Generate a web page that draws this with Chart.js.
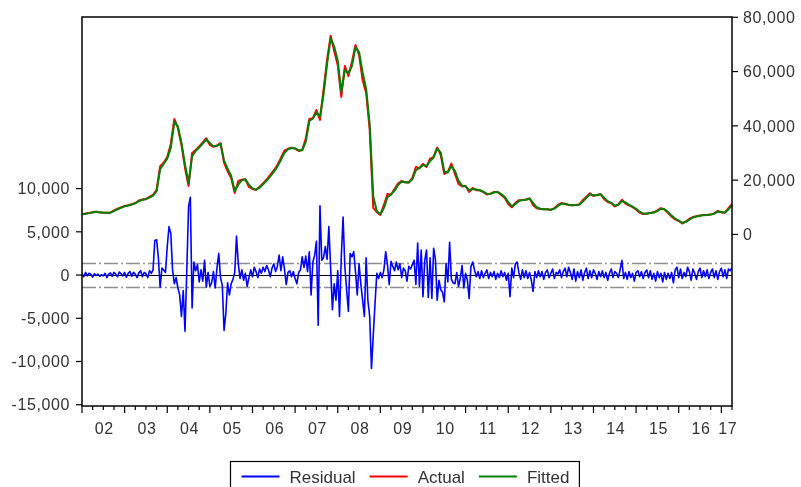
<!DOCTYPE html>
<html>
<head>
<meta charset="utf-8">
<script src="https://cdn.jsdelivr.net/npm/chart.js@4.4.1/dist/chart.umd.min.js"></script>
<style>
  html, body { margin: 0; padding: 0; background: #ffffff; }
  #wrap { width: 801px; height: 487px; }
</style>
</head>
<body>
<div id="wrap"><canvas id="chart" width="801" height="487"></canvas></div>
<script>
// Sample: January 2002 to March 2017
const periodStart = 2002;
const periodEnd = 2017.25;

// Actual and fitted levels, one value per month (right axis)
const actual = [
  7440, 7700, 7920, 8210, 8400, 8100, 8030, 8030, 8030, 8840,
  9470, 9980, 10500, 10750, 11120, 11600, 12520, 12850, 13070, 13810,
  14550, 16390, 25120, 26440, 28540, 33330, 42540, 39220, 32960, 24490,
  17860, 30020, 31120, 32410, 33880, 35430, 32960, 32230, 32780, 33700,
  26330, 23280, 20810, 15280, 19700, 20180, 20330, 17490, 16760, 16390,
  17570, 18860, 20220, 21910, 23570, 25600, 28170, 30860, 31560, 31970,
  31600, 30750, 31120, 35360, 42540, 42800, 45850, 42170, 53220, 64270,
  73180, 67580, 62430, 50640, 62060, 58380, 63530, 69790, 66110, 56900,
  52110, 38490, 9760, 8180, 7180, 10860, 14920, 14660, 16760, 18860,
  19700, 19150, 19150, 20810, 24860, 24380, 26040, 24860, 27920, 28540,
  32040, 29280, 22280, 23020, 26080, 22280, 18600, 17680, 17860, 15650,
  17130, 16280, 16280, 15580, 14730, 15030, 15650, 15650, 14550, 13520,
  11230, 10020, 11600, 12630, 12710, 12850, 13300, 10860, 9650, 9390,
  9280, 9240, 9020, 9720, 10860, 11560, 11230, 10860, 10750, 10830,
  11050, 12600, 13850, 15170, 14180, 14580, 14880, 13000, 11970, 11530,
  10280, 11120, 12780, 11380, 10680, 10050, 9210, 7990, 7510, 7730,
  7920, 8140, 8840, 9720, 9130, 7840, 6560, 5560, 4940, 4010,
  4790, 5780, 6410, 6700, 6960, 7180, 7180, 7370, 7770, 8660,
  8100, 8030, 9720, 11230
];

const fitted = [
  7440, 7620, 7850, 8120, 8340, 8190, 8050, 8030, 8030, 8600,
  9280, 9830, 10340, 10680, 11010, 11460, 12240, 12750, 13000, 13590,
  14330, 15840, 24000, 26040, 27910, 31890, 41500, 39700, 33800, 25800,
  18800, 28800, 30790, 32020, 33440, 34970, 33700, 32450, 32620, 33420,
  27200, 24200, 21550, 16000, 18370, 20040, 20290, 18340, 16980, 16500,
  17220, 18470, 19810, 21400, 23070, 24990, 27400, 30050, 31350, 31850,
  31710, 31010, 31010, 34090, 41800, 42720, 44940, 43270, 51500, 62800,
  72300, 69260, 63980, 52500, 60500, 59480, 61990, 69000, 67210, 59660,
  53550, 40500, 14000, 8650, 7480, 9760, 13700, 14740, 16130, 18230,
  19450, 19320, 19150, 20310, 23650, 24520, 25540, 25210, 27000, 28350,
  31600, 30110, 23200, 22800, 25160, 23420, 19700, 17960, 17810, 16310,
  16690, 16540, 16280, 15790, 14990, 14940, 15460, 15650, 14880, 13830,
  11920, 10380, 11130, 12320, 12690, 12810, 13170, 11590, 10010, 9470,
  9310, 9250, 9090, 9510, 10520, 11350, 11330, 10970, 10780, 10810,
  10980, 12140, 13480, 14770, 14480, 14460, 14790, 13560, 12280, 11660,
  10660, 10870, 12280, 11800, 10890, 10240, 9460, 8360, 7650, 7660,
  7860, 8070, 8630, 9460, 9310, 8230, 6940, 5860, 5130, 4290,
  4560, 5480, 6220, 6610, 6880, 7110, 7180, 7310, 7650, 8390,
  8270, 8050, 9210, 10780
];

// Residuals, two values per month (left axis)
const residual = [
  150, -200, 300, -100, 200, 100, -250, 150, -50, 100,
  -150, 50, -100, 200, -300, 100, 250, -150, 300, 100,
  -200, 350, 150, -100, 300, -250, 200, 400, -150, 300,
  100, -300, 250, 500, -200, 300, 150, -300, 500, 200,
  600, 4000, 4100, 2000, -1400, 800, 600, 300, 3300, 5600,
  4800, 600, -1000, -300, -1500, -2300, -4800, -1800, -6500, 500,
  7900, 9000, -3800, 1500, 500, 1200, -800, 600, -700, 1700,
  -1400, 300, -1300, -900, 400, -1500, 800, 2500, -300, -1200,
  -6400, -4400, -900, -2300, -1000, -500, 300, 4500, 1300, -400,
  600, -600, 200, -1300, -300, 600, -200, 900, 400, -300,
  700, 200, 900, 400, 1100, 600, -200, 800, 1300, 400,
  1000, 2300, 500, 2100, 700, -1100, 300, 500, -200, 400,
  -400, -1000, 300, 600, 2100, 900, 2200, 400, 2700, -2300,
  1500, 2300, 3900, -5800, 8000, 1700, 2000, 3300, 1800, 5600,
  800, -4000, -1000, -2900, 500, -4800, 2100, 6700, 1000, -1700,
  -4200, 2500, 2100, 2700, 400, -2300, 1300, -1000, -2900, -4800,
  2000, -3000, -4800, -10800, -7000, -3300, 200, -400, 300, -300,
  600, 2700, 1200, -1100, 1600, 1000, 500, 1500, 600, 1300,
  -300, 800, 500, -700, 1000, 700, 1200, 1700, -1100, 3700,
  -1300, 2900, -2500, 1700, 2900, -2600, 2000, -2700, 3100, 1800,
  -2900, -600, -1700, -2000, -3100, 1300, -800, 3800, -500, -900,
  -1000, 300, -1300, -400, 1100, -1500, 200, -600, -2700, 1000,
  1500, 600, -200, 400, -400, 500, -300, 200, 600, -400,
  300, -200, 400, -500, 200, -300, 500, -200, 300, -600,
  200, -2500, 800, -300, 1300, 1500, 300, -500, 600, -300,
  500, -400, 300, -600, -1900, 400, -300, 500, -200, 400,
  -500, 300, 600, -300, 200, 700, -400, 300, 100, 600,
  -300, 400, 800, -200, 900, 300, -500, 700, -700, 400,
  -300, 600, -600, 300, 800, -400, 500, -300, 600, 200,
  -500, 400, -200, 500, -300, 300, -600, 200, 700, -300,
  400, 200, -300, 600, 1700, -400, 300, -500, 400, -300,
  200, -700, 300, 500, -200, 400, -400, 300, 600, -300,
  500, -500, 200, -700, 400, -300, 200, -800, 300, -500,
  200, -400, 300, -900, 600, 900, -300, 700, -400, 300,
  -200, 900, 400, -600, 700, 200, -500, 400, 800, -300,
  500, -200, 600, -400, 300, 700, -300, 500, -500, 400,
  800, -200, 600, -400, 700, 500, 900
];

// One standard error of the regression, drawn as a band around zero
const residualBand = 1350;

// Axis tick labels
const yearLabels = ['02', '03', '04', '05', '06', '07', '08', '09', '10', '11', '12', '13', '14', '15', '16', '17'];
const residualTicks = [10000, 5000, 0, -5000, -10000, -15000];
const levelTicks = [0, 20000, 40000, 60000, 80000];

const seriesNames = ['Residual', 'Actual', 'Fitted'];
const seriesColors = ['#0000ff', '#ff0000', '#008000'];

const axisFont = '16px "Liberation Sans", Arial, sans-serif';
const legendFont = '17px "Liberation Sans", Arial, sans-serif';
const textColor = '#333333';

const fmt = v => v.toLocaleString('en-US');

function strokeLine(ctx, x1, y1, x2, y2) {
  ctx.beginPath();
  ctx.moveTo(x1, y1);
  ctx.lineTo(x2, y2);
  ctx.stroke();
}

// Frame, reference lines, axis ticks, tick labels and the boxed legend
const eviewsFrame = {
  id: 'eviewsFrame',
  beforeDatasetsDraw(chart) {
    const { ctx, chartArea: a, scales } = chart;
    const yR = scales.yRes;
    ctx.save();
    ctx.beginPath();
    ctx.rect(a.left, a.top, a.right - a.left, a.bottom - a.top);
    ctx.clip();
    ctx.strokeStyle = '#909090';
    ctx.lineWidth = 1.5;
    ctx.setLineDash([14, 3, 2, 3]);
    [residualBand, -residualBand].forEach(v => {
      const y = Math.round(yR.getPixelForValue(v)) + 0.5;
      strokeLine(ctx, a.left, y, a.right, y);
    });
    ctx.setLineDash([]);
    ctx.strokeStyle = '#000000';
    ctx.lineWidth = 1.2;
    const y0 = Math.round(yR.getPixelForValue(0)) + 0.5;
    strokeLine(ctx, a.left, y0, a.right, y0);
    ctx.restore();
  },
  afterDraw(chart) {
    const { ctx, chartArea: a, scales } = chart;
    const x = scales.x, yR = scales.yRes, yL = scales.yLev;
    ctx.save();

    // plot frame
    ctx.strokeStyle = '#000000';
    ctx.lineWidth = 1.5;
    ctx.strokeRect(a.left, a.top, a.right - a.left, a.bottom - a.top);

    ctx.lineWidth = 1.2;
    ctx.fillStyle = textColor;
    ctx.font = axisFont;
    if ('letterSpacing' in ctx) ctx.letterSpacing = '0.6px';

    // left axis: residuals
    ctx.textAlign = 'right';
    ctx.textBaseline = 'alphabetic';
    residualTicks.forEach(v => {
      const y = yR.getPixelForValue(v);
      strokeLine(ctx, a.left - 6, y, a.left, y);
      ctx.fillText(fmt(v), a.left - 12, y + 5.7);
    });

    // right axis: actual / fitted levels
    ctx.textAlign = 'left';
    levelTicks.forEach(v => {
      const y = yL.getPixelForValue(v);
      strokeLine(ctx, a.right, y, a.right + 6, y);
      ctx.fillText(fmt(v), a.right + 11, y + 5.7);
    });

    // time axis: quarterly minor ticks, yearly major ticks, labels mid-year
    for (let yr = periodStart; yr <= Math.floor(periodEnd); yr++) {
      for (let q = 0; q < 4; q++) {
        const t = yr + q / 4;
        if (t > periodEnd) break;
        const px = x.getPixelForValue(t);
        strokeLine(ctx, px, a.bottom, px, a.bottom + (q === 0 ? 7 : 4));
      }
    }
    ctx.textAlign = 'center';
    yearLabels.forEach((lab, i) => {
      const yr = periodStart + i;
      const mid = (yr + Math.min(yr + 1, periodEnd)) / 2;
      ctx.fillText(lab, x.getPixelForValue(mid) + 1, 434);
    });

    // legend
    if ('letterSpacing' in ctx) ctx.letterSpacing = '0px';
    ctx.font = legendFont;
    ctx.textAlign = 'left';
    const boxLeft = 230.5, boxTop = 461.5, lineY = 476.5, baseY = 483;
    let cx = boxLeft + 11;
    seriesNames.forEach((name, i) => {
      ctx.strokeStyle = seriesColors[i];
      ctx.lineWidth = 2;
      strokeLine(ctx, cx, lineY, cx + 38, lineY);
      ctx.fillStyle = textColor;
      ctx.fillText(name, cx + 48, baseY);
      cx += 48 + ctx.measureText(name).width + 14;
    });
    const boxRight = cx - 14 + 10;
    ctx.strokeStyle = '#000000';
    ctx.lineWidth = 1.2;
    ctx.strokeRect(boxLeft, boxTop, boxRight - boxLeft, 40);

    ctx.restore();
  }
};

const monthly = arr => arr.map((v, i) => ({ x: periodStart + i / 12, y: v }));
const halfMonthly = arr => arr.map((v, i) => ({ x: periodStart + i / 24, y: v }));

new Chart(document.getElementById('chart'), {
  type: 'line',
  data: {
    datasets: [
      {
        label: seriesNames[0],
        data: halfMonthly(residual),
        yAxisID: 'yRes',
        borderColor: seriesColors[0],
        borderWidth: 1.6,
        order: 0
      },
      {
        label: seriesNames[1],
        data: monthly(actual),
        yAxisID: 'yLev',
        borderColor: seriesColors[1],
        borderWidth: 2,
        order: 2
      },
      {
        label: seriesNames[2],
        data: monthly(fitted),
        yAxisID: 'yLev',
        borderColor: seriesColors[2],
        borderWidth: 2,
        order: 1
      }
    ]
  },
  options: {
    responsive: false,
    animation: false,
    parsing: false,
    layout: { padding: { left: 82, right: 69, top: 17, bottom: 81 } },
    elements: {
      point: { radius: 0, hoverRadius: 0 },
      line: { tension: 0, borderJoinStyle: 'round', fill: false }
    },
    plugins: { legend: { display: false }, tooltip: { enabled: false } },
    scales: {
      x: { type: 'linear', min: periodStart, max: periodEnd, display: false },
      yRes: { type: 'linear', position: 'left', min: -15150, max: 29850, display: false },
      yLev: { type: 'linear', position: 'right', min: -63200, max: 80100, display: false }
    }
  },
  plugins: [eviewsFrame]
});
</script>
</body>
</html>
